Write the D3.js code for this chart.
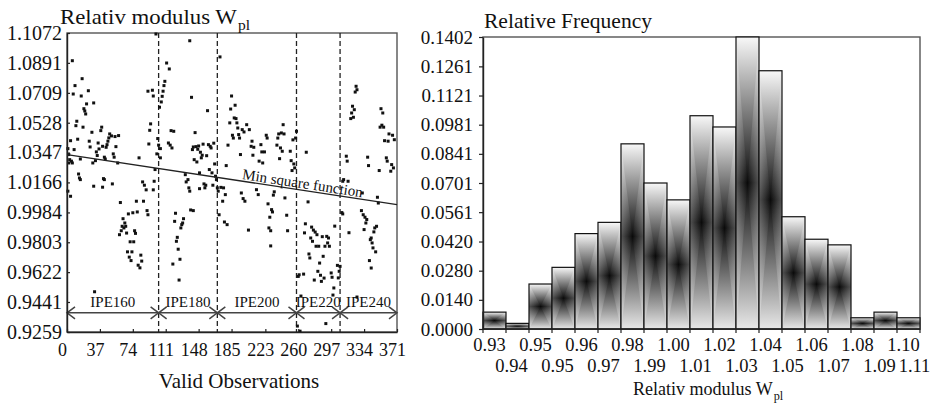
<!DOCTYPE html>
<html>
<head>
<meta charset="utf-8">
<script src="https://cdn.jsdelivr.net/npm/d3@7/dist/d3.min.js"></script>
<style>
  body { margin: 0; background: #fff; }
  svg text { font-family: "Liberation Serif", "Times New Roman", serif; fill: #111; }
</style>
</head>
<body>
<svg id="chart" width="937" height="406"></svg>
<script>
// left panel: relative modulus per observation
const obsNo = [6,100,138,172,112,115,17,9,24,7,
  16,22,19,20,21,30,91,96,97,110,
  109,108,107,106,104,140,158,11,10,18,
  28,39,38,48,47,50,54,58,94,93,
  117,120,144,4,12,25,26,35,40,36,
  46,45,44,55,1,8,33,34,92,102,
  103,105,114,116,118,142,145,148,141,147,
  153,159,161,162,165,150,152,157,2,3,
  5,2,6,15,29,32,42,43,52,53,
  57,81,101,105,143,146,151,166,179,149,
  160,163,13,14,41,133,136,167,168,99,
  185,189,184,188,190,191,192,183,202,186,
  187,193,194,197,199,205,181,195,208,207,
  210,209,218,219,224,225,216,220,222,238,
  241,237,244,243,236,240,242,239,251,254,
  257,258,252,255,256,253,269,325,326,324,
  321,323,320,319,322,353,355,354,356,352,
  362,366,368,357,361,314,315,338,339,359,
  360,365,367,364,351,311,316,1,4,15,
  30,40,42,51,85,87,98,97,89,60,
  78,86,69,74,79,90,91,63,65,62,
  64,61,66,59,67,76,77,71,75,68,
  73,70,72,83,84,80,82,31,134,137,
  138,149,155,156,154,139,142,122,121,131,
  129,128,130,124,123,125,127,119,126,164,
  169,170,173,176,178,175,171,177,180,196,
  198,200,213,215,233,232,226,230,231,245,
  228,227,229,204,247,248,229,271,268,267,
  275,277,279,281,274,276,280,283,287,292,
  294,293,290,295,301,309,310,272,273,288,
  260,261,266,284,282,285,289,286,297,298,
  300,304,307,306,263,291,259,262,331,333,
  335,337,336,334,346,348,345,342,341,343,
  344,347,340,342,317,349,350,332,310,326,
  278,305,299];

const wplValues = [1.0904,1.1066,1.1025,1.0927,1.0890,1.0854,1.0795,1.0753,1.0722,1.0702,
  1.0690,1.0642,1.0613,1.0599,1.0581,1.0648,1.0719,1.0725,1.0690,1.0779,
  1.0753,1.0719,1.0688,1.0654,1.0622,1.0682,1.0601,1.0537,1.0510,1.0501,
  1.0470,1.0501,1.0480,1.0460,1.0436,1.0448,1.0444,1.0450,1.0521,1.0482,
  1.0480,1.0476,1.0468,1.0419,1.0428,1.0416,1.0381,1.0405,1.0385,1.0369,
  1.0416,1.0395,1.0379,1.0383,1.0371,1.0365,1.0351,1.0329,1.0399,1.0432,
  1.0392,1.0371,1.0405,1.0392,1.0375,1.0381,1.0383,1.0387,1.0365,1.0367,
  1.0398,1.0395,1.0385,1.0375,1.0404,1.0349,1.0331,1.0328,1.0335,1.0304,
  1.0295,1.0284,1.0284,1.0308,1.0284,1.0298,1.0319,1.0308,1.0339,1.0319,
  1.0284,1.0315,1.0339,1.0315,1.0304,1.0290,1.0315,1.0278,1.0268,1.0224,
  1.0244,1.0224,1.0217,1.0193,1.0189,1.0213,1.0183,1.0204,1.0183,1.0244,
  1.0690,1.0634,1.0611,1.0557,1.0553,1.0527,1.0496,1.0527,1.0516,1.0452,
  1.0435,1.0456,1.0435,1.0486,1.0472,1.0486,1.0392,1.0335,1.0416,1.0385,
  1.0379,1.0331,1.0395,1.0351,1.0452,1.0435,1.0295,1.0284,1.0351,1.0460,
  1.0466,1.0435,1.0460,1.0516,1.0392,1.0375,1.0355,1.0310,1.0355,1.0424,
  1.0435,1.0476,1.0298,1.0278,1.0254,1.0238,1.0349,1.0749,1.0728,1.0714,
  1.0628,1.0607,1.0587,1.0553,1.0561,1.0613,1.0587,1.0513,1.0501,1.0501,
  1.0460,1.0452,1.0425,1.0419,1.0416,1.0325,1.0295,1.0319,1.0268,1.0315,
  1.0295,1.0274,1.0254,1.0234,1.0238,1.0183,1.0173,1.0113,1.0082,1.0183,
  1.0143,1.0137,1.0183,1.0157,1.0169,1.0149,1.0173,1.0121,1.0121,1.0044,
  1.0052,1.0052,0.9975,0.9982,0.9987,0.9995,0.9970,0.9946,0.9920,0.9900,
  0.9890,0.9873,0.9900,0.9849,0.9859,0.9873,0.9857,0.9806,0.9806,0.9745,
  0.9745,0.9713,0.9692,0.9725,0.9689,0.9664,0.9648,0.9503,1.0169,1.0133,
  1.0113,1.0128,1.0133,1.0149,1.0157,0.9999,0.9995,0.9979,0.9930,0.9946,
  0.9910,0.9890,0.9920,0.9833,0.9809,0.9761,0.9700,0.9671,0.9574,1.0149,
  1.0133,1.0113,1.0136,1.0133,1.0092,1.0052,0.9970,0.9926,0.9910,1.0102,
  1.0068,1.0052,1.0122,1.0092,1.0109,1.0089,1.0036,1.0001,0.9987,1.0072,
  0.9955,0.9890,0.9873,0.9877,0.9967,0.9873,0.9781,1.0048,0.9915,0.9860,
  0.9895,0.9877,0.9865,0.9849,0.9829,0.9809,0.9779,0.9779,0.9837,0.9839,
  0.9829,0.9799,0.9779,0.9779,0.9901,0.9983,0.9975,0.9732,0.9708,0.9718,
  0.9596,0.9606,0.9610,0.9677,0.9627,0.9603,0.9586,0.9566,0.9617,0.9591,
  0.9526,0.9663,0.9657,0.9627,0.9477,0.9310,0.9295,0.9264,0.9995,0.9970,
  0.9955,0.9941,0.9920,0.9880,0.9890,0.9900,0.9866,0.9829,0.9819,0.9799,
  0.9769,0.9745,0.9692,0.9647,0.9861,1.0076,1.0041,1.0102,1.0173,0.9471,
  0.9574,0.9587,0.9483];

const wplTicks = [0.9259,0.9441,0.9622,0.9803,0.9984,1.0166,1.0347,1.0528,1.0709,1.0891,1.1072];
const obsTicks = [0,37,74,111,148,185,223,260,297,334,371];
const sectionNames = ["IPE160","IPE180","IPE200","IPE220","IPE240"];
const sectionBreaks = [0,103,169,258,307,371];
const fitEnds = [1.0335, 1.0031]; // least square line at obs 0 and obs 371

// right panel: histogram
const relFreq = [0.0081,0.0027,0.0216,0.0296,0.0458,0.0512,0.0889,0.0701,0.0620,0.1024,
  0.0970,0.1402,0.1240,0.0539,0.0431,0.0404,0.0054,0.0081,0.0054];
const binTopLabels = ["0.93","0.95","0.96","0.98","1.00","1.02","1.04","1.06","1.08","1.10"];
const binBottomLabels = ["0.94","0.95","0.97","1.99","1.01","1.03","1.05","1.07","1.09","1.11"];
const freqTicks = [0.0000,0.0140,0.0280,0.0420,0.0561,0.0701,0.0841,0.0981,0.1121,0.1261,0.1402];

const svg = d3.select("#chart");
const fmt4 = d3.format(".4f");

// title with a subscript; stretch widens it the way the figure's lettering is
function title(g, x, y, size, main, sub, stretch) {
  const t = g.append("text")
    .attr("transform", `translate(${x},${y}) scale(${stretch},1)`)
    .attr("font-size", size);
  t.append("tspan").text(main);
  t.append("tspan").attr("font-size", size * 0.68).attr("dx", 1).attr("dy", size * 0.3).text(sub);
  return t;
}

function styleAxis(g, size) {
  g.attr("font-family", null).attr("font-size", size);
  g.select(".domain").attr("stroke", "#222").attr("stroke-width", 1.4);
  g.selectAll(".tick line").attr("stroke", "#222").attr("stroke-width", 1.2);
  g.selectAll(".tick text").attr("fill", "#111");
}

// ---------- left chart ----------
const L = { left: 67, right: 397, top: 33, bottom: 332 };
const x1 = d3.scaleLinear().domain([0, 371]).range([L.left, L.right]);
const y1 = d3.scaleLinear().domain([0.9259, 1.1072]).range([L.bottom, L.top]);

const left = svg.append("g");

left.append("rect")
  .attr("x", L.left).attr("y", L.top)
  .attr("width", L.right - L.left).attr("height", L.bottom - L.top)
  .attr("fill", "none").attr("stroke", "#555").attr("stroke-width", 1.4);

sectionBreaks.slice(1, -1).forEach(b => {
  left.append("line")
    .attr("x1", x1(b)).attr("x2", x1(b))
    .attr("y1", L.top).attr("y2", L.bottom)
    .attr("stroke", "#222").attr("stroke-width", 1.3)
    .attr("stroke-dasharray", "5,3");
});

const points = d3.zip(obsNo, wplValues);
left.append("g").selectAll("rect")
  .data(points)
  .join("rect")
  .attr("x", d => x1(d[0]) - 1.5)
  .attr("y", d => y1(d[1]) - 1.5)
  .attr("width", 3).attr("height", 3)
  .attr("fill", "#111");

// least square line
const fx0 = x1(0), fy0 = y1(fitEnds[0]), fx1 = x1(371), fy1 = y1(fitEnds[1]);
left.append("line")
  .attr("x1", fx0).attr("y1", fy0).attr("x2", fx1).attr("y2", fy1)
  .attr("stroke", "#222").attr("stroke-width", 1.3);
const ang = Math.atan2(fy1 - fy0, fx1 - fx0) * 180 / Math.PI;
const labObs = 264;
const lx = x1(labObs), ly = y1(fitEnds[0] + (fitEnds[1] - fitEnds[0]) * labObs / 371);
left.append("text")
  .attr("transform", `translate(${lx},${ly - 2}) rotate(${ang})`)
  .attr("text-anchor", "middle")
  .attr("font-size", 15)
  .text("Min square function");

// section arrows
const arrowY = y1(0.9375);
const arrows = left.append("g").attr("stroke", "#444").attr("stroke-width", 1.5).attr("fill", "none");
sectionNames.forEach((name, i) => {
  const a = x1(sectionBreaks[i]), b = x1(sectionBreaks[i + 1]);
  arrows.append("line").attr("x1", a).attr("x2", b).attr("y1", arrowY).attr("y2", arrowY);
  arrows.append("path").attr("d", `M${a + 8},${arrowY - 6}L${a},${arrowY}L${a + 8},${arrowY + 6}`);
  arrows.append("path").attr("d", `M${b - 8},${arrowY - 6}L${b},${arrowY}L${b - 8},${arrowY + 6}`);
  left.append("text")
    .attr("x", (a + b) / 2).attr("y", arrowY - 6)
    .attr("text-anchor", "middle")
    .attr("font-size", 15)
    .attr("fill", "#222")
    .text(name);
});

const yAxisL = left.append("g")
  .attr("transform", `translate(${L.left},0)`)
  .call(d3.axisLeft(y1).tickValues(wplTicks).tickFormat(fmt4)
    .tickSizeInner(-3).tickSizeOuter(0).tickPadding(5));
styleAxis(yAxisL, 20);

const xAxisL = left.append("g")
  .attr("transform", `translate(0,${L.bottom})`)
  .call(d3.axisBottom(x1).tickValues(obsTicks).tickFormat(d3.format("d"))
    .tickSizeInner(-3).tickSizeOuter(0).tickPadding(11));
styleAxis(xAxisL, 18);
xAxisL.selectAll(".tick text").attr("dx", -5);

title(left, 60, 24, 20, "Relativ modulus W", "pl", 1.14);
left.append("text")
  .attr("x", 239).attr("y", 388)
  .attr("text-anchor", "middle")
  .attr("font-size", 21)
  .text("Valid Observations");

// ---------- right chart ----------
const R = { left: 483, right: 920, top: 37, bottom: 329 };
const xb = d3.scaleBand().domain(d3.range(relFreq.length)).range([R.left, R.right]).padding(0);
const y2 = d3.scaleLinear().domain([0, 0.1402]).range([R.bottom, R.top]);

const defs = svg.append("defs");
const vGrad = defs.append("linearGradient")
  .attr("id", "barGrad")
  .attr("x1", 0).attr("y1", 0).attr("x2", 0).attr("y2", 1);
[[0, "#f8f8f8"], [0.5, "#0a0a0a"], [1, "#e8e8e8"]]
  .forEach(s => vGrad.append("stop").attr("offset", s[0]).attr("stop-color", s[1]));
// side sheen, gives the rectangular "from centre" look
[["sideL", 0, 1], ["sideR", 1, 0]].forEach(([id, a, b]) => {
  const g = defs.append("linearGradient").attr("id", id)
    .attr("x1", a).attr("y1", 0).attr("x2", b).attr("y2", 0);
  g.append("stop").attr("offset", 0).attr("stop-color", "#fff").attr("stop-opacity", 0.3);
  g.append("stop").attr("offset", 1).attr("stop-color", "#fff").attr("stop-opacity", 0);
});

const right = svg.append("g");

right.append("rect")
  .attr("x", R.left).attr("y", R.top)
  .attr("width", R.right - R.left).attr("height", R.bottom - R.top)
  .attr("fill", "none").attr("stroke", "#555").attr("stroke-width", 1.4);

const bw = xb.bandwidth();
const bars = right.append("g").selectAll("g")
  .data(relFreq)
  .join("g");

bars.append("rect")
  .attr("x", (d, i) => xb(i))
  .attr("y", d => y2(d))
  .attr("width", bw)
  .attr("height", d => y2(0) - y2(d))
  .attr("fill", "url(#barGrad)");

bars.append("path")
  .attr("fill", "url(#sideL)")
  .attr("d", (d, i) => {
    const x0 = xb(i), t = y2(d), b = y2(0);
    return `M${x0},${t}L${x0 + bw / 2},${(t + b) / 2}L${x0},${b}Z`;
  });
bars.append("path")
  .attr("fill", "url(#sideR)")
  .attr("d", (d, i) => {
    const x0 = xb(i) + bw, t = y2(d), b = y2(0);
    return `M${x0},${t}L${x0 - bw / 2},${(t + b) / 2}L${x0},${b}Z`;
  });

bars.append("rect")
  .attr("x", (d, i) => xb(i))
  .attr("y", d => y2(d))
  .attr("width", bw)
  .attr("height", d => y2(0) - y2(d))
  .attr("fill", "none")
  .attr("stroke", "#111")
  .attr("stroke-width", 1.2);

const yAxisR = right.append("g")
  .attr("transform", `translate(${R.left},0)`)
  .call(d3.axisLeft(y2).tickValues(freqTicks).tickFormat(fmt4)
    .tickSizeInner(4).tickSizeOuter(0).tickPadding(6));
styleAxis(yAxisR, 19);

right.append("line")
  .attr("x1", R.left).attr("x2", R.right)
  .attr("y1", R.bottom).attr("y2", R.bottom)
  .attr("stroke", "#222").attr("stroke-width", 1.4);
right.append("g").selectAll("line")
  .data(d3.range(relFreq.length + 1))
  .join("line")
  .attr("x1", i => i < relFreq.length ? xb(i) : R.right)
  .attr("x2", i => i < relFreq.length ? xb(i) : R.right)
  .attr("y1", R.bottom).attr("y2", R.bottom + 4)
  .attr("stroke", "#222").attr("stroke-width", 1.2);

binTopLabels.forEach((lab, k) => {
  right.append("text")
    .attr("x", xb(k * 2) + bw / 2 - 5).attr("y", 351)
    .attr("text-anchor", "middle").attr("font-size", 18.5)
    .text(lab);
});
binBottomLabels.forEach((lab, k) => {
  const i = Math.min(k * 2 + 1, relFreq.length - 1);
  const shift = k * 2 + 1 < relFreq.length ? -6 : 6;
  right.append("text")
    .attr("x", xb(i) + bw / 2 + shift).attr("y", 372)
    .attr("text-anchor", "middle").attr("font-size", 18.5)
    .text(lab);
});

right.append("text")
  .attr("x", 484).attr("y", 28)
  .attr("font-size", 21)
  .attr("textLength", 168).attr("lengthAdjust", "spacingAndGlyphs")
  .text("Relative Frequency");
title(right, 633, 395, 18, "Relativ modulus W", "pl", 1);
</script>
</body>
</html>
